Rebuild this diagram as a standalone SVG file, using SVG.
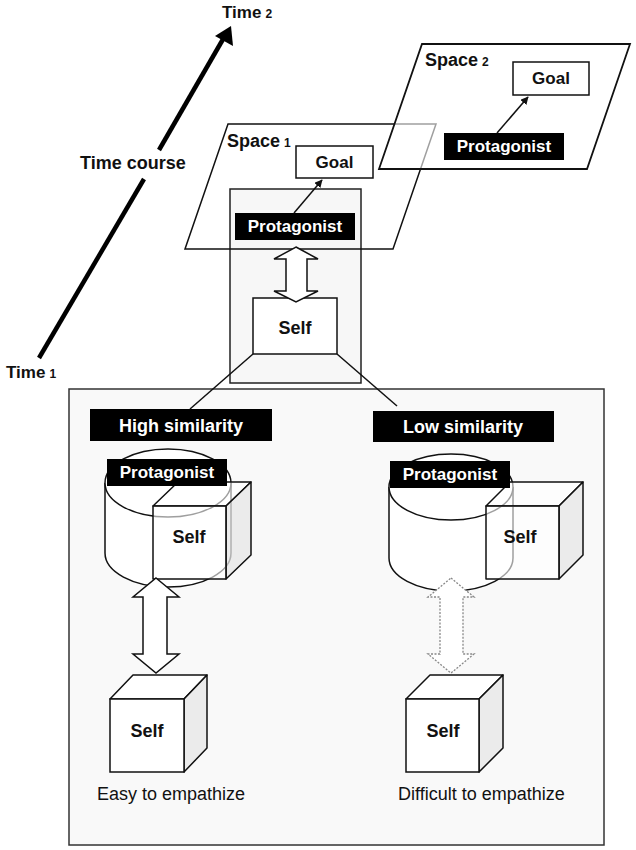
<svg xmlns="http://www.w3.org/2000/svg" width="636" height="850" viewBox="0 0 636 850">
<defs>
<style>
.b{font-family:"Liberation Sans",Arial,sans-serif;font-weight:bold;fill:#111}
.w{font-family:"Liberation Sans",Arial,sans-serif;font-weight:bold;fill:#fff}
.r{font-family:"Liberation Sans",Arial,sans-serif;fill:#111;font-size:18px}
.ln{fill:none;stroke:#111;stroke-width:1.5}
.box{fill:#fff;stroke:#111;stroke-width:1.5}
.lab{fill:#000}
.cube{fill:#fff;fill-opacity:0.6;stroke:#111;stroke-width:1.5;stroke-linejoin:round}
.side{fill:#e6e6e6;fill-opacity:0.75;stroke:#111;stroke-width:1.5;stroke-linejoin:round}
.dbl{fill:#fff;stroke:#111;stroke-width:1.5;stroke-linejoin:miter}
</style>
<marker id="ah" viewBox="0 0 10 10" refX="9" refY="5" markerWidth="8" markerHeight="8" markerUnits="userSpaceOnUse" orient="auto"><path d="M0,0 L10,5 L0,10 z" fill="#111"/></marker>
</defs>
<rect width="636" height="850" fill="#fff"/>

<g id="panel">
<rect x="69" y="389" width="535" height="456" fill="#f9f9f9" stroke="#333" stroke-width="1.5"/>
</g>

<g id="timeaxis">
<text class="b" x="222" y="18" font-size="17">Time<tspan font-size="12" dx="4">2</tspan></text>
<text class="b" x="6" y="378" font-size="17">Time<tspan font-size="12" dx="4">1</tspan></text>
<text class="b" x="80" y="169" font-size="18">Time course</text>
</g>

<g id="selfframe">
<rect x="230" y="189" width="131" height="194" fill="#f4f4f4" fill-opacity="0.7" stroke="#222" stroke-width="1.5"/>
</g>

<g id="space1">
<polygon points="228,124 436,124 393,249 185,249" class="ln"/>
<text class="b" x="227" y="147" font-size="18">Space<tspan font-size="12" dx="4">1</tspan></text>
</g>
<g id="goal1">
<rect x="296" y="146" width="77" height="32" class="box"/>
<text class="b" x="334.5" y="168" font-size="17" text-anchor="middle">Goal</text>
</g>
<g id="protagonist1">
<rect x="235" y="213" width="120" height="27" class="lab"/>
<text class="w" x="295" y="232" font-size="17" text-anchor="middle">Protagonist</text>
</g>

<g id="space2">
<polygon points="422,44 630,44 587,169 379,169" fill="#fff" fill-opacity="0.6" stroke="#111" stroke-width="1.8"/>
<text class="b" x="425" y="66" font-size="18">Space<tspan font-size="12" dx="4">2</tspan></text>
</g>
<g id="goal2">
<rect x="513" y="62" width="76" height="33" class="box"/>
<text class="b" x="551" y="84" font-size="17" text-anchor="middle">Goal</text>
</g>
<g id="protagonist2">
<rect x="444" y="133" width="120" height="27" class="lab"/>
<text class="w" x="504" y="152" font-size="17" text-anchor="middle">Protagonist</text>
</g>

<g id="self0">
<rect x="253" y="298" width="84" height="56" class="box"/>
<text class="b" x="295" y="334" font-size="18" text-anchor="middle">Self</text>
</g>

<g id="highsim">
<rect x="90" y="409" width="182" height="32" class="lab"/>
<text class="w" x="181" y="432" font-size="18" text-anchor="middle">High similarity</text>
</g>
<g id="lowsim">
<rect x="373" y="411" width="181" height="31" class="lab"/>
<text class="w" x="463" y="433" font-size="18" text-anchor="middle">Low similarity</text>
</g>

<g id="cylinderL">
<path d="M105,483 L105,553 A63,34 0 0 0 231,553 L231,483" fill="#fff" stroke="#111" stroke-width="1.5"/>
<ellipse cx="168" cy="483" rx="63" ry="34" fill="#fff" stroke="#111" stroke-width="1.5"/>
</g>
<g id="cubeL1">
<polygon points="153,506 178,482 251,482 226,506" class="cube"/>
<polygon points="226,506 251,482 251,555 226,579" class="side"/>
<rect x="153" y="506" width="73" height="73" class="cube"/>
<text class="b" x="189" y="543" font-size="18" text-anchor="middle">Self</text>
</g>
<g id="protL">
<rect x="107" y="459" width="120" height="27" class="lab"/>
<text class="w" x="167" y="478" font-size="17" text-anchor="middle">Protagonist</text>
</g>

<g id="cylinderR">
<path d="M389,487 L389,558 A62,33 0 0 0 513,558 L513,487" fill="#fff" stroke="#111" stroke-width="1.5"/>
<ellipse cx="451" cy="487" rx="62" ry="33" fill="#fff" stroke="#111" stroke-width="1.5"/>
</g>
<g id="cubeR1">
<polygon points="486,506 510,482 583,482 559,506" class="cube"/>
<polygon points="559,506 583,482 583,555 559,579" class="side"/>
<rect x="486" y="506" width="73" height="73" class="cube"/>
<text class="b" x="520" y="543" font-size="18" text-anchor="middle">Self</text>
</g>
<g id="protR">
<rect x="390" y="461" width="120" height="27" class="lab"/>
<text class="w" x="450" y="480" font-size="17" text-anchor="middle">Protagonist</text>
</g>

<g id="cubeL2">
<polygon points="110,699 133,675 207,675 184,699" fill="#fff" stroke="#111" stroke-width="1.5" stroke-linejoin="round"/>
<polygon points="184,699 207,675 207,748 184,772" class="side"/>
<rect x="110" y="699" width="74" height="73" fill="#fff" stroke="#111" stroke-width="1.5"/>
<text class="b" x="147" y="737" font-size="18" text-anchor="middle">Self</text>
</g>
<g id="cubeR2">
<polygon points="406,699 430,675 503,675 479,699" fill="#fff" stroke="#111" stroke-width="1.5" stroke-linejoin="round"/>
<polygon points="479,699 503,675 503,748 479,772" class="side"/>
<rect x="406" y="699" width="73" height="73" fill="#fff" stroke="#111" stroke-width="1.5"/>
<text class="b" x="443" y="737" font-size="18" text-anchor="middle">Self</text>
</g>

<g id="captions">
<text class="r" x="97" y="800">Easy to empathize</text>
<text class="r" x="398" y="800">Difficult to empathize</text>
</g>

<g id="connectors">
<line x1="159" y1="150" x2="226" y2="34" stroke="#000" stroke-width="4.5"/>
<polygon points="231,26 233,46 215,36" fill="#000"/>
<line x1="144" y1="179" x2="39" y2="358" stroke="#000" stroke-width="4.5"/>
<line x1="294" y1="213" x2="322" y2="180" class="ln" marker-end="url(#ah)"/>
<line x1="497" y1="133" x2="528" y2="97" class="ln" marker-end="url(#ah)"/>
<polygon points="296,247 318,259 307,259 307,291 318,291 296,302 274,291 286,291 286,259 274,259" class="dbl"/>
<line x1="253" y1="354" x2="190" y2="409" class="ln"/>
<line x1="337" y1="354" x2="397" y2="406" class="ln"/>
<polygon points="156,578 179,597 167,597 167,654 179,654 156,673 133,654 143,654 143,597 133,597" class="dbl"/>
<polygon points="451,578 474,597 463,597 463,654 474,654 451,673 428,654 440,654 440,597 428,597" fill="#fff" stroke="#888" stroke-width="1.3" stroke-dasharray="2,1.5"/>
</g>
</svg>
